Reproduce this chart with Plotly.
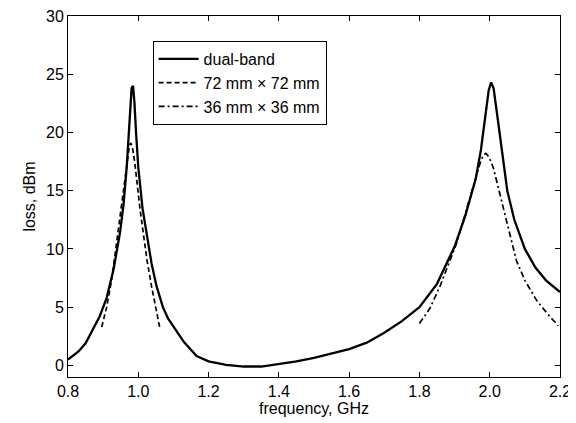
import plotly.graph_objects as go

# dual-band measured loss
dual_f = [0.80, 0.83, 0.85, 0.87, 0.89, 0.91, 0.93, 0.948, 0.958, 0.967, 0.972, 0.977, 0.981, 0.985,
          0.989, 0.994, 1.00, 1.012, 1.024, 1.038, 1.052, 1.07, 1.085, 1.10, 1.13, 1.166, 1.20,
          1.25, 1.30, 1.35, 1.40, 1.45, 1.50, 1.55, 1.60, 1.65, 1.70, 1.75, 1.80, 1.85,
          1.90, 1.93, 1.96, 1.975, 1.988, 1.997, 2.004, 2.011, 2.02, 2.03, 2.05, 2.07, 2.10,
          2.13, 2.16, 2.20]
dual_v = [0.5, 1.2, 1.9, 3.1, 4.2, 5.8, 8.3, 11.4, 13.8, 17.0, 19.5, 22.3, 23.8, 24.0,
          22.6, 19.8, 17.0, 13.5, 11.3, 8.7, 6.8, 5.0, 4.0, 3.3, 2.0, 0.8, 0.35,
          0.05, -0.1, -0.1, 0.1, 0.35, 0.65, 1.0, 1.4, 1.95, 2.8, 3.8, 5.0, 7.0,
          10.2, 12.8, 16.0, 18.5, 21.5, 23.6, 24.3, 23.8, 21.8, 19.5, 15.0, 12.5, 10.0,
          8.4, 7.3, 6.3]

# 72 mm x 72 mm
p72_f = [0.896, 0.91, 0.925, 0.939, 0.95, 0.96, 0.968, 0.974, 0.978, 0.983, 0.99, 0.996,
         1.005, 1.014, 1.025, 1.038, 1.05, 1.062]
p72_v = [3.3, 5.0, 7.5, 10.8, 13.3, 15.8, 17.6, 18.7, 19.1, 18.8, 17.4, 15.6,
         13.4, 11.4, 9.0, 6.75, 4.8, 3.1]

# 36 mm x 36 mm
p36_f = [1.80, 1.83, 1.86, 1.906, 1.935, 1.963, 1.975, 1.983, 1.989, 1.995, 2.002, 2.01,
         2.025, 2.039, 2.058, 2.076, 2.10, 2.133, 2.165, 2.195]
p36_v = [3.6, 4.9, 6.9, 10.5, 13.5, 16.5, 17.6, 18.1, 18.2, 18.0, 17.6, 17.0,
         15.2, 13.3, 11.0, 9.0, 7.3, 5.6, 4.4, 3.4]

x_ticks = [0.8, 1.0, 1.2, 1.4, 1.6, 1.8, 2.0, 2.2]
y_ticks = [0, 5, 10, 15, 20, 25, 30]

fig = go.Figure()
fig.add_trace(go.Scatter(x=dual_f, y=dual_v, mode="lines", name="dual-band",
                         line=dict(color="black", width=2.3)))
fig.add_trace(go.Scatter(x=p72_f, y=p72_v, mode="lines", name="72 mm × 72 mm",
                         line=dict(color="black", width=1.7, dash="5px,3px")))
fig.add_trace(go.Scatter(x=p36_f, y=p36_v, mode="lines", name="36 mm × 36 mm",
                         line=dict(color="black", width=1.7, dash="6px,3px,2px,3px")))

font = dict(family="Liberation Sans, Arial, sans-serif", size=16, color="black")
axis_common = dict(showline=True, linecolor="black", linewidth=1, mirror="ticks",
                   ticks="inside", ticklen=5, tickcolor="black", showgrid=False,
                   zeroline=False, tickfont=font, automargin=False,
                   ticklabeloverflow="allow")

# page body has an 8px default margin, so the figure is sized to fit the window
fig.update_layout(
    width=568, height=415,
    margin=dict(l=60, r=16, t=8, b=46),
    paper_bgcolor="white", plot_bgcolor="white",
    font=font,
    xaxis=dict(range=[0.8, 2.2], tickvals=x_ticks,
               ticktext=[f"{v:.1f}" for v in x_ticks],
               title=dict(text="frequency, GHz", font=font, standoff=2),
               **axis_common),
    yaxis=dict(range=[-1, 30], tickvals=y_ticks,
               title=dict(text="loss, dBm", font=font, standoff=6),
               **axis_common),
    legend=dict(x=0.172, y=0.931, xanchor="left", yanchor="top",
                bgcolor="white", bordercolor="black", borderwidth=1,
                font=font, tracegroupgap=0, itemwidth=40),
    showlegend=True,
)

fig.write_html("out.html")
